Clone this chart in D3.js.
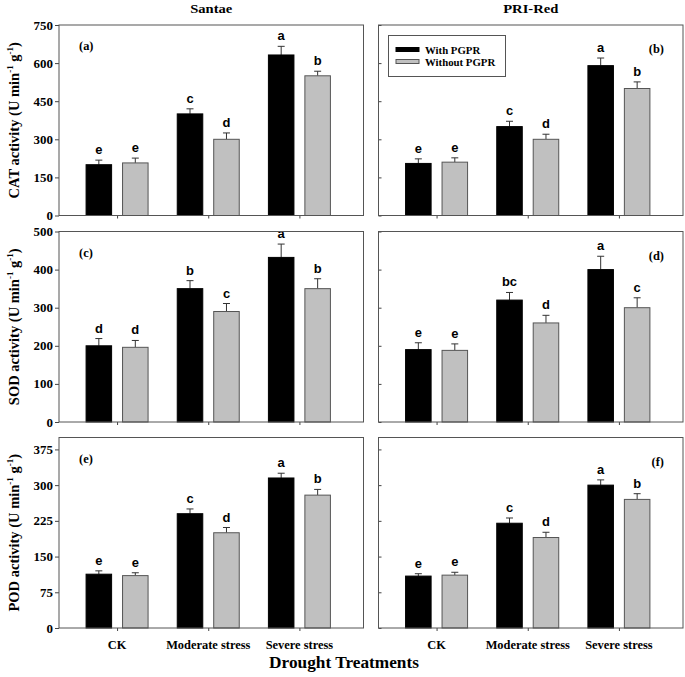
<!DOCTYPE html>
<html><head><meta charset="utf-8">
<script src="https://cdn.jsdelivr.net/npm/d3@7"></script>
<style>body{margin:0;background:#fff}svg{display:block}</style>
</head><body><svg id="c" width="685" height="677"></svg>
<script>
const categories = ["CK", "Moderate stress", "Severe stress"];
const seriesNames = ["With PGPR", "Without PGPR"];
const columnTitles = ["Santae", "PRI-Red"];

// CAT
const catSantaeWith = [200, 400, 632], catSantaeWithErr = [18, 20, 34];
const catSantaeWithout = [207, 300, 550], catSantaeWithoutErr = [19, 25, 18];
const catPriWith = [205, 350, 590], catPriWithErr = [18, 21, 30];
const catPriWithout = [210, 300, 500], catPriWithoutErr = [17, 20, 26];
const catSantaeLetters = [["e", "c", "a"], ["e", "d", "b"]];
const catPriLetters = [["e", "c", "a"], ["e", "d", "b"]];
// SOD
const sodSantaeWith = [200, 350, 432], sodSantaeWithErr = [19, 21, 35];
const sodSantaeWithout = [196, 290, 350], sodSantaeWithoutErr = [18, 21, 26];
const sodPriWith = [190, 320, 400], sodPriWithErr = [18, 20, 35];
const sodPriWithout = [188, 260, 300], sodPriWithoutErr = [17, 20, 26];
const sodSantaeLetters = [["d", "b", "a"], ["d", "c", "b"]];
const sodPriLetters = [["e", "bc", "a"], ["e", "d", "c"]];
// POD
const podSantaeWith = [113, 240, 315], podSantaeWithErr = [7, 10, 10];
const podSantaeWithout = [110, 200, 279], podSantaeWithoutErr = [6, 11, 12];
const podPriWith = [109, 220, 300], podPriWithErr = [5, 11, 11];
const podPriWithout = [111, 190, 270], podPriWithoutErr = [6, 11, 12];
const podSantaeLetters = [["e", "c", "a"], ["e", "d", "b"]];
const podPriLetters = [["e", "c", "a"], ["e", "d", "b"]];

const catTicks = [0, 150, 300, 450, 600, 750];
const sodTicks = [0, 100, 200, 300, 400, 500];
const podTicks = [0, 75, 150, 225, 300, 375];
const yMax = [750, 500, 400];
const yLabels = ["CAT", "SOD", "POD"];
const panelTags = [["(a)", "(b)"], ["(c)", "(d)"], ["(e)", "(f)"]];

const panels = [
  [{w: catSantaeWith, we: catSantaeWithErr, o: catSantaeWithout, oe: catSantaeWithoutErr, L: catSantaeLetters},
   {w: catPriWith, we: catPriWithErr, o: catPriWithout, oe: catPriWithoutErr, L: catPriLetters}],
  [{w: sodSantaeWith, we: sodSantaeWithErr, o: sodSantaeWithout, oe: sodSantaeWithoutErr, L: sodSantaeLetters},
   {w: sodPriWith, we: sodPriWithErr, o: sodPriWithout, oe: sodPriWithoutErr, L: sodPriLetters}],
  [{w: podSantaeWith, we: podSantaeWithErr, o: podSantaeWithout, oe: podSantaeWithoutErr, L: podSantaeLetters},
   {w: podPriWith, we: podPriWithErr, o: podPriWithout, oe: podPriWithoutErr, L: podPriLetters}]
];
const tickSets = [catTicks, sodTicks, podTicks];

const svg = d3.select("#c");
const SERIF = "'Liberation Serif','Times New Roman',serif";
const SANS = "'Liberation Sans',Arial,sans-serif";
const SX = 1.08;

function stext(g, x, y, str, size, anchor, family, weight) {
  return g.append("text")
    .attr("transform", `translate(${x},${y}) scale(${SX},1)`)
    .attr("text-anchor", anchor || "middle")
    .attr("font-family", family || SERIF)
    .attr("font-weight", weight || "bold")
    .attr("font-size", size)
    .attr("fill", "#000")
    .text(str);
}

const rowTop = [25, 231.5, 437.5];
const panelH = 190.5;
const colLeft = [59, 378.5];
const panelW = 304.5;

for (let r = 0; r < 3; r++) {
  for (let c = 0; c < 2; c++) {
    const d = panels[r][c];
    const x0 = colLeft[c], y0 = rowTop[r];
    const g = svg.append("g");
    const x = d3.scaleBand().domain(categories).range([x0, x0 + panelW])
      .paddingInner(0.32).paddingOuter(0.33).align(0.45);
    const xs = d3.scaleBand().domain(seriesNames).range([0, x.bandwidth()]).paddingInner(0.3);
    const y = d3.scaleLinear().domain([0, yMax[r]]).range([y0 + panelH, y0]);

    const ax = c === 0
      ? d3.axisLeft(y).tickValues(tickSets[r]).tickSize(4).tickSizeOuter(0).tickPadding(3)
      : d3.axisLeft(y).tickValues(tickSets[r]).tickSize(-3).tickSizeOuter(0).tickFormat("");
    const ag = g.append("g").attr("transform", `translate(${x0},0)`).call(ax);
    ag.select(".domain").remove();
    ag.selectAll("line").attr("stroke", "#444");
    ag.selectAll("text").remove();
    if (c === 0) {
      tickSets[r].forEach(t => {
        stext(g, x0 - 6, y(t) + 4.5, String(t), 12, "end");
      });
    }
    const xa = d3.axisBottom(d3.scalePoint().domain(categories)
      .range([x(categories[0]) + x.bandwidth() / 2, x(categories[2]) + x.bandwidth() / 2]))
      .tickSize(3).tickSizeOuter(0).tickFormat("");
    const xg = g.append("g").attr("transform", `translate(0,${y0 + panelH})`).call(xa);
    xg.select(".domain").remove();
    xg.selectAll("line").attr("stroke", "#444");
    if (r === 2) {
      categories.forEach(cat => {
        stext(g, x(cat) + x.bandwidth() / 2, y0 + panelH + 21, cat, 11.5, "middle");
      });
    }

    const rows = [];
    categories.forEach((cat, i) => {
      rows.push({cat, s: seriesNames[0], v: d.w[i], e: d.we[i], l: d.L[0][i]});
      rows.push({cat, s: seriesNames[1], v: d.o[i], e: d.oe[i], l: d.L[1][i]});
    });
    const bw = xs.bandwidth();
    rows.forEach(o => {
      const bx = x(o.cat) + xs(o.s);
      const cx = bx + bw / 2;
      g.append("line").attr("x1", cx).attr("x2", cx).attr("y1", y(o.v)).attr("y2", y(o.v + o.e))
        .attr("stroke", "#333").attr("stroke-width", 1);
      g.append("line").attr("x1", cx - 3.5).attr("x2", cx + 3.5).attr("y1", y(o.v + o.e)).attr("y2", y(o.v + o.e))
        .attr("stroke", "#333").attr("stroke-width", 1);
      g.append("rect").attr("x", bx).attr("y", y(o.v)).attr("width", bw).attr("height", y(0) - y(o.v))
        .attr("fill", o.s === seriesNames[0] ? "#000" : "#c0c0c0")
        .attr("stroke", o.s === seriesNames[0] ? "#000" : "#555").attr("stroke-width", 1);
      stext(g, cx, y(o.v + o.e) - 6, o.l, 12, "middle", SANS, "bold");
    });

    g.append("rect").attr("x", x0).attr("y", y0).attr("width", panelW).attr("height", panelH)
      .attr("fill", "none").attr("stroke", "#555").attr("stroke-width", 1);

    if (c === 0) stext(g, x0 + 20, y0 + 25, panelTags[r][c], 11.5, "start");
    else stext(g, x0 + panelW - 19, y0 + 28, panelTags[r][c], 11.5, "end");
  }
  const cy = rowTop[r] + panelH / 2;
  const t = svg.append("text")
    .attr("transform", `translate(19,${cy}) rotate(-90)`)
    .attr("text-anchor", "middle").attr("font-family", SERIF).attr("font-weight", "bold")
    .attr("font-size", 14.5);
  t.append("tspan").text(yLabels[r] + " activity (U min");
  t.append("tspan").attr("dy", -6).attr("font-size", 9).text("-1");
  t.append("tspan").attr("dy", 6).text(" g");
  t.append("tspan").attr("dy", -6).attr("font-size", 9).text("-1");
  t.append("tspan").attr("dy", 6).text(")");
}

columnTitles.forEach((tt, c) => stext(svg, colLeft[c] + panelW / 2, 13, tt, 13.5, "middle"));

const lg = svg.append("g");
lg.append("rect").attr("x", 388.5).attr("y", 35.5).attr("width", 117).attr("height", 41)
  .attr("fill", "#fff").attr("stroke", "#555");
seriesNames.forEach((s, i) => {
  lg.append("rect").attr("x", 396).attr("y", 47.5 + i * 12).attr("width", 23).attr("height", 4)
    .attr("fill", i === 0 ? "#000" : "#c0c0c0").attr("stroke", i === 0 ? "#000" : "#555");
  stext(lg, 425, 53.5 + i * 12, s, 10, "start");
});

stext(svg, 344, 668, "Drought Treatments", 16, "middle");
</script></body></html>
